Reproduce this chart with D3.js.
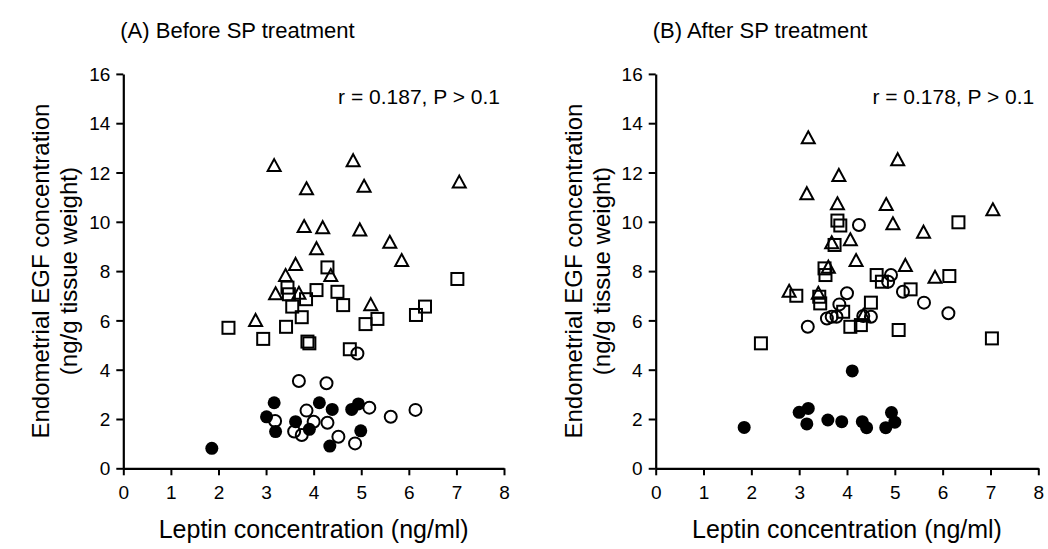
<!DOCTYPE html>
<html>
<head>
<meta charset="utf-8">
<script src="https://cdn.jsdelivr.net/npm/d3@7"></script>
<style>
  html, body { margin: 0; padding: 0; background: #fff; }
  svg { display: block; font-family: "Liberation Sans", Arial, sans-serif; }
</style>
</head>
<body>
<svg id="chart" width="1048" height="549"></svg>
<script>
// Leptin (x, ng/ml) vs endometrial EGF (y, ng/g tissue weight), four groups per panel

// Panel A – before SP treatment
const beforeTriangles = [[2.78,6.02],[3.17,12.3],[3.2,7.1],[3.41,7.84],[3.62,8.29],[3.69,7.12],[3.8,9.83],[3.85,11.36],[4.06,8.93],[4.19,9.78],[4.36,7.84],[4.83,12.5],[4.97,9.69],[5.06,11.46],[5.2,6.66],[5.6,9.19],[5.85,8.45],[7.06,11.63]];
const beforeSquares = [[2.21,5.7],[2.94,5.25],[3.42,5.74],[3.45,7.33],[3.48,7.06],[3.55,6.56],[3.75,6.13],[3.84,6.86],[3.87,5.14],[3.91,5.07],[4.06,7.23],[4.29,8.15],[4.5,7.16],[4.62,6.62],[4.76,4.83],[5.09,5.85],[5.34,6.06],[6.15,6.22],[6.34,6.56],[7.02,7.68]];
const beforeOpenCircles = [[3.19,1.92],[3.59,1.49],[3.69,3.54],[3.75,1.35],[3.85,2.34],[4.0,1.89],[4.27,3.45],[4.29,1.85],[4.52,1.28],[4.87,1.01],[4.92,4.66],[5.17,2.46],[5.62,2.09],[6.14,2.37]];
const beforeFilledCircles = [[1.86,0.81],[3.01,2.09],[3.17,2.66],[3.2,1.49],[3.62,1.89],[3.91,1.58],[4.12,2.66],[4.34,0.9],[4.39,2.39],[4.8,2.39],[4.94,2.61],[4.99,1.52]];

// Panel B – after SP treatment
const afterTriangles = [[2.79,7.2],[3.16,11.16],[3.19,13.43],[3.4,7.12],[3.61,8.18],[3.68,9.17],[3.8,10.75],[3.83,11.9],[4.07,9.29],[4.19,8.45],[4.34,6.22],[4.82,10.72],[4.96,9.94],[5.06,12.54],[5.22,8.25],[5.6,9.6],[5.84,7.77],[7.05,10.51]];
const afterSquares = [[2.2,5.07],[2.94,7.0],[3.42,6.96],[3.44,6.69],[3.53,8.11],[3.55,7.84],[3.74,9.06],[3.8,10.05],[3.86,9.85],[3.92,6.35],[4.07,5.74],[4.29,5.81],[4.5,6.72],[4.62,7.84],[4.73,7.57],[5.08,5.61],[5.33,7.26],[6.14,7.8],[6.33,9.98],[7.03,5.27]];
const afterOpenCircles = [[3.18,5.74],[3.58,6.08],[3.68,6.15],[3.78,6.15],[3.84,6.65],[4.0,7.1],[4.25,9.87],[4.34,6.18],[4.5,6.15],[4.86,7.57],[4.92,7.84],[5.17,7.16],[5.61,6.72],[6.12,6.29]];
const afterFilledCircles = [[1.85,1.66],[3.0,2.27],[3.16,1.8],[3.19,2.43],[3.6,1.96],[3.89,1.89],[4.11,3.95],[4.32,1.89],[4.41,1.65],[4.81,1.65],[4.93,2.26],[5.0,1.87]];

const xTicks = [0, 1, 2, 3, 4, 5, 6, 7, 8];
const yTicks = [0, 2, 4, 6, 8, 10, 12, 14, 16];

const panelTitles = ["(A) Before SP treatment", "(B) After SP treatment"];
const statTexts = ["r = 0.187, P > 0.1", "r = 0.178, P > 0.1"];
const xTitle = "Leptin concentration (ng/ml)";
const yTitleLines = ["Endometrial  EGF concentration", "(ng/g tissue weight)"];

const panels = [
  { left: 123.3, right: 504, tri: beforeTriangles, sq: beforeSquares, oc: beforeOpenCircles, fc: beforeFilledCircles },
  { left: 655.7, right: 1038.3, tri: afterTriangles, sq: afterSquares, oc: afterOpenCircles, fc: afterFilledCircles }
];

const svg = d3.select("#chart");
const yTop = 73.9, yBottom = 468.3;

panels.forEach((p, i) => {
  const x = d3.scaleLinear().domain([0, 8]).range([p.left, p.right]);
  const y = d3.scaleLinear().domain([0, 16]).range([yBottom, yTop]);
  const g = svg.append("g");

  // axes
  const xAxis = g.append("g").attr("transform", `translate(0,${yBottom})`)
    .call(d3.axisBottom(x).tickValues(xTicks).tickSize(7).tickSizeOuter(0).tickPadding(10).tickFormat(d3.format("d")));
  const yAxis = g.append("g").attr("transform", `translate(${p.left},0)`)
    .call(d3.axisLeft(y).tickValues(yTicks).tickSize(7).tickSizeOuter(0).tickPadding(6).tickFormat(d3.format("d")));
  [xAxis, yAxis].forEach(a => {
    a.select(".domain").attr("stroke", "#000").attr("stroke-width", 2.2);
    a.selectAll(".tick line").attr("stroke", "#000").attr("stroke-width", 2);
    a.selectAll(".tick text").attr("fill", "#000").style("font-size", "19px")
      .style("font-family", '"Liberation Sans", Arial, sans-serif');
  });
  yAxis.selectAll(".tick text").attr("dy", "0.35em");
  xAxis.selectAll(".tick text").attr("dy", "0.71em");

  // titles
  g.append("text").attr("x", p.left - 3).attr("y", 38).attr("font-size", 22).attr("fill", "#000")
    .text(panelTitles[i]);
  g.append("text").attr("x", x(8) - 4).attr("y", 104).attr("font-size", 21).attr("text-anchor", "end").attr("fill", "#000")
    .text(statTexts[i]);
  g.append("text").attr("x", (p.left + p.right) / 2).attr("y", 538).attr("font-size", 25)
    .attr("text-anchor", "middle").attr("fill", "#000").text(xTitle);
  const cy = (yTop + yBottom) / 2;
  const lx = [p.left - 74, p.left - 46];
  yTitleLines.forEach((t, k) => {
    g.append("text").attr("transform", `translate(${lx[k]},${cy}) rotate(-90)`)
      .attr("text-anchor", "middle").attr("font-size", 24).attr("fill", "#000").text(t);
  });

  // markers: open shapes first, filled circles on top
  const tw = 13, th = 12;
  g.append("g").selectAll("path").data(p.tri).join("path")
    .attr("d", d => `M${x(d[0])},${y(d[1]) - th / 2}L${x(d[0]) + tw / 2},${y(d[1]) + th / 2}L${x(d[0]) - tw / 2},${y(d[1]) + th / 2}Z`)
    .attr("fill", "none").attr("stroke", "#000").attr("stroke-width", 2).attr("stroke-linejoin", "miter");

  const s = 12;
  g.append("g").selectAll("rect").data(p.sq).join("rect")
    .attr("x", d => x(d[0]) - s / 2).attr("y", d => y(d[1]) - s / 2)
    .attr("width", s).attr("height", s)
    .attr("fill", "none").attr("stroke", "#000").attr("stroke-width", 2);

  g.append("g").selectAll("circle").data(p.oc).join("circle")
    .attr("cx", d => x(d[0])).attr("cy", d => y(d[1])).attr("r", 6)
    .attr("fill", "none").attr("stroke", "#000").attr("stroke-width", 2);

  g.append("g").selectAll("circle").data(p.fc).join("circle")
    .attr("cx", d => x(d[0])).attr("cy", d => y(d[1])).attr("r", 6.5)
    .attr("fill", "#000");
});
</script>
</body>
</html>
